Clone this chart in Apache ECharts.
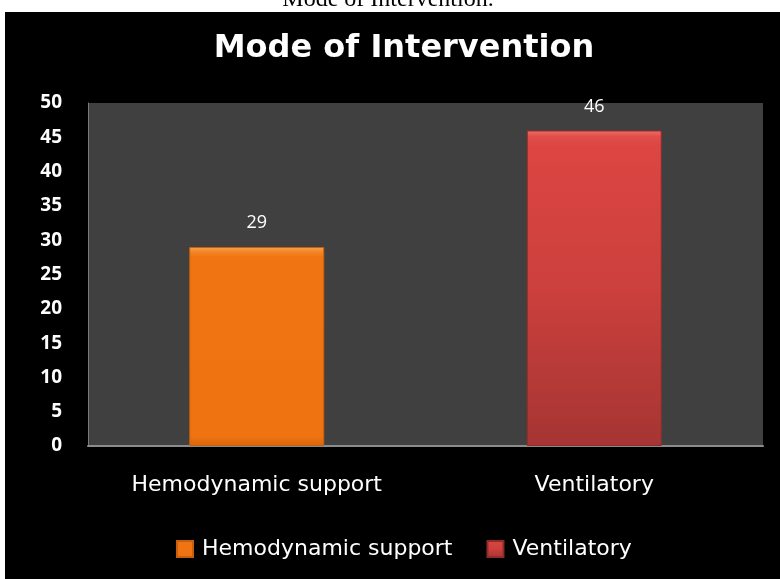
<!DOCTYPE html>
<html>
<head>
<meta charset="utf-8">
<script src="https://cdn.jsdelivr.net/npm/echarts@6/dist/echarts.min.js"></script>
<style>
html,body{margin:0;padding:0;background:#fff;}
#c{width:780px;height:579px;}
</style>
</head>
<body>
<div id="c"></div>
<script>
const categories = ['Hemodynamic support', 'Ventilatory'];
const seriesNames = ['Hemodynamic support', 'Ventilatory'];
const hemodynamicValues = [29, null];
const ventilatoryValues = [null, 46];
const yTicks = [0, 5, 10, 15, 20, 25, 30, 35, 40, 45, 50];
const chartTitle = 'Mode of Intervention';
const captionText = 'Mode of Intervention.';

const chart = echarts.init(document.getElementById('c'), null, {renderer: 'canvas'});
const font = '"DejaVu Sans", sans-serif';
const font2 = '"Open Sans", "DejaVu Sans", sans-serif';

function grad(stops) {
  return new echarts.graphic.LinearGradient(0, 0, 0, 1, stops.map((c) => ({offset: c[0], color: c[1]})));
}

chart.setOption({
  backgroundColor: '#ffffff',
  animation: false,
  graphic: [
    {type: 'rect', z: -10, x: 5, y: 12, shape: {width: 775, height: 567}, style: {fill: '#000'}, silent: true},
    {type: 'text', z: -5, x: 388, y: 12, style: {text: captionText, fill: '#000', font: '24px "Liberation Serif", "Times New Roman", serif', align: 'center', verticalAlign: 'bottom'}}
  ],
  title: {
    text: chartTitle,
    left: 399,
    textAlign: 'center',
    top: 28,
    textStyle: {color: '#fff', fontFamily: font, fontWeight: 'bold', fontSize: 32}
  },
  legend: {
    data: seriesNames,
    left: 176,
    top: 538,
    padding: 0,
    itemWidth: 16,
    itemHeight: 16,
    itemGap: 34,
    icon: 'rect',
    textStyle: {color: '#fff', fontFamily: font, fontSize: 22, padding: [0, 0, 0, 4]}
  },
  grid: {
    left: 88, right: 17, top: 103, bottom: 133,
    show: true, backgroundColor: '#404040', borderWidth: 0
  },
  xAxis: {
    type: 'category',
    data: categories,
    axisLine: {show: true, lineStyle: {color: '#8c8c8c', width: 2}},
    axisTick: {show: false},
    axisLabel: {color: '#fff', fontFamily: font, fontSize: 22, margin: 28}
  },
  yAxis: {
    type: 'value',
    min: yTicks[0],
    max: yTicks[yTicks.length - 1],
    interval: yTicks[1] - yTicks[0],
    axisLine: {show: true, lineStyle: {color: '#7a7a7a', width: 1}},
    axisTick: {show: false},
    splitLine: {show: false},
    axisLabel: {color: '#fff', fontFamily: font2, fontSize: 19, fontWeight: 'bold', margin: 26}
  },
  series: [
    {
      name: seriesNames[0],
      type: 'bar',
      data: hemodynamicValues,
      barWidth: 135,
      barGap: '-100%',
      itemStyle: {
        color: grad([[0, '#f9a850'], [0.02, '#f38a2c'], [0.05, '#f07412'], [0.95, '#ef7311'], [1, '#d9660d']]),
        borderColor: '#c75f0c', borderWidth: 1
      },
      label: {show: true, position: 'top', distance: 15, color: '#fff', fontFamily: font2, fontSize: 18}
    },
    {
      name: seriesNames[1],
      type: 'bar',
      data: ventilatoryValues,
      barWidth: 135,
      barGap: '-100%',
      itemStyle: {
        color: grad([[0, '#ef6d6a'], [0.02, '#e04e4b'], [0.05, '#dc4542'], [0.5, '#cc403d'], [1, '#a53533']]),
        borderColor: '#8f2c2a', borderWidth: 1
      },
      label: {show: true, position: 'top', distance: 15, color: '#fff', fontFamily: font2, fontSize: 18}
    }
  ]
});
</script>
</body>
</html>
